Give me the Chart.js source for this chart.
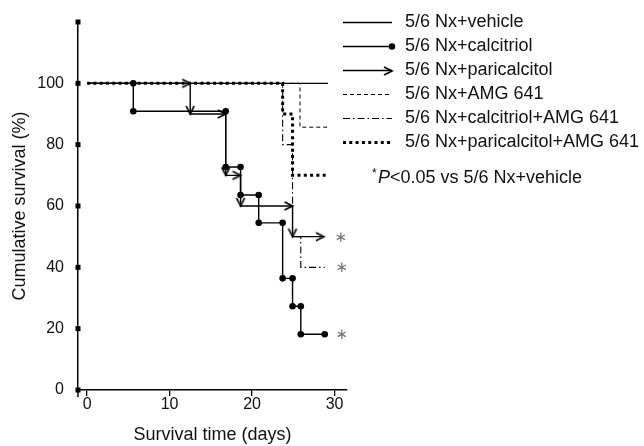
<!DOCTYPE html>
<html>
<head>
<meta charset="utf-8">
<script src="https://cdn.jsdelivr.net/npm/chart.js@4.4.1/dist/chart.umd.min.js"></script>
<style>
  html, body { margin: 0; padding: 0; background: #fff; }
  canvas { display: block; }
</style>
</head>
<body>
<canvas id="kmChart" width="644" height="446"></canvas>
<script>
// Kaplan-Meier curves: event day -> survival (%) after it
const seriesNames = [
  "5/6 Nx+vehicle",
  "5/6 Nx+calcitriol",
  "5/6 Nx+paricalcitol",
  "5/6 Nx+AMG 641",
  "5/6 Nx+calcitriol+AMG 641",
  "5/6 Nx+paricalcitol+AMG 641"
];

const vehicleTimes = [];
const vehicleSurv = [];
const vehicleEnd = 29.2;

const calcitriolTimes = [5.6, 16.8, 18.6, 20.8, 23.7, 24.9, 25.9];
const calcitriolSurv = [90.9, 72.7, 63.6, 54.5, 36.4, 27.3, 18.2];
const calcitriolEnd = 28.8;

const paricalcitolTimes = [12.5, 16.8, 18.6, 24.9];
const paricalcitolSurv = [90, 70, 60, 50];
const paricalcitolEnd = 28.7;

const amgTimes = [25.8];
const amgSurv = [85.7];
const amgEnd = 29.2;

const calcAmgTimes = [23.7, 24.9, 25.9];
const calcAmgSurv = [80, 50, 40];
const calcAmgEnd = 28.8;

const pariAmgTimes = [23.7, 24.9];
const pariAmgSurv = [90, 70];
const pariAmgEnd = 29.2;

// which groups get the * (P<0.05 vs vehicle)
const significant = [false, true, true, false, true, false];

const xTicks = [0, 10, 20, 30];
const yTicks = [0, 20, 40, 60, 80, 100, 120];
const yTickLabels = ["0", "20", "40", "60", "80", "100", ""];

const FONT = "'Liberation Sans', Arial, Helvetica, sans-serif";

// turn event lists into step corners
function kmSteps(times, surv, end) {
  const pts = [{ x: 0, y: 100 }];
  let prev = 100;
  times.forEach((t, i) => {
    pts.push({ x: t, y: prev });
    pts.push({ x: t, y: surv[i] });
    prev = surv[i];
  });
  pts.push({ x: end, y: prev });
  return pts;
}

// open arrow head, tip in the middle of the canvas
function makeArrow() {
  const c = document.createElement("canvas");
  c.width = 20;
  c.height = 20;
  const g = c.getContext("2d");
  g.strokeStyle = "#000";
  g.lineWidth = 1.7;
  g.beginPath();
  g.moveTo(2, 6);
  g.lineTo(10, 10);
  g.lineTo(2, 14);
  g.stroke();
  return c;
}
const arrowImg = makeArrow();

const base = {
  fill: false,
  borderColor: "#000",
  tension: 0,
  pointRadius: 0,
  pointHoverRadius: 0,
  borderCapStyle: "butt"
};

const datasets = [
  { ...base, label: seriesNames[0], data: kmSteps(vehicleTimes, vehicleSurv, vehicleEnd), borderWidth: 1.4, order: 6 },
  {
    ...base, label: seriesNames[1], data: kmSteps(calcitriolTimes, calcitriolSurv, calcitriolEnd), borderWidth: 1.4,
    pointRadius: c => (c.dataIndex === 0 ? 0 : 3.3), pointBackgroundColor: "#000", pointBorderWidth: 0, order: 2
  },
  {
    ...base, label: seriesNames[2], data: kmSteps(paricalcitolTimes, paricalcitolSurv, paricalcitolEnd), borderWidth: 1.4,
    pointStyle: arrowImg, pointRadius: c => (c.dataIndex === 0 ? 0 : 3),
    pointRotation: c => (c.dataIndex % 2 ? 0 : 90), order: 1
  },
  { ...base, label: seriesNames[3], data: kmSteps(amgTimes, amgSurv, amgEnd), borderWidth: 1, borderDash: [4, 3], order: 5 },
  { ...base, label: seriesNames[4], data: kmSteps(calcAmgTimes, calcAmgSurv, calcAmgEnd), borderWidth: 1.1, borderDash: [7, 3, 1.5, 3], order: 4 },
  { ...base, label: seriesNames[5], data: kmSteps(pariAmgTimes, pariAmgSurv, pariAmgEnd), borderWidth: 3, borderDash: [3, 3.3], order: 3 }
];

// legend samples, axis squares, asterisks
const decorations = {
  id: "decorations",
  afterDraw(chart) {
    const { ctx, chartArea, scales: { y } } = chart;
    ctx.save();

    // y axis sticks out a bit below the x axis
    ctx.strokeStyle = "#000";
    ctx.lineWidth = 1.5;
    ctx.setLineDash([]);
    ctx.beginPath();
    ctx.moveTo(chartArea.left, chartArea.bottom);
    ctx.lineTo(chartArea.left, chartArea.bottom + 7);
    ctx.stroke();

    // square tick marks
    ctx.fillStyle = "#000";
    yTicks.forEach(v => {
      const py = y.getPixelForValue(v);
      ctx.fillRect(chartArea.left - 2.5, py - 2.5, 5, 5);
    });

    // asterisks at the end of significant curves
    ctx.fillStyle = "#777";
    ctx.font = "15px 'DejaVu Sans', sans-serif";
    ctx.textAlign = "center";
    ctx.textBaseline = "middle";
    significant.forEach((s, i) => {
      if (!s) return;
      const pts = chart.getDatasetMeta(i).data;
      const last = pts[pts.length - 1];
      ctx.fillText("\u2217", last.x + 17, last.y + 1);
    });

    // legend
    const lx0 = 343, lx1 = 392, tx = 405, ty0 = 22.5, dy = 24;
    ctx.textAlign = "left";
    ctx.font = "18px " + FONT;
    datasets.forEach((ds, i) => {
      const yy = ty0 + i * dy;
      ctx.strokeStyle = "#000";
      ctx.lineWidth = ds.borderWidth;
      ctx.setLineDash(ds.borderDash || []);
      ctx.beginPath();
      ctx.moveTo(lx0, yy);
      ctx.lineTo(lx1, yy);
      ctx.stroke();
      ctx.setLineDash([]);
      if (i === 1) {
        ctx.fillStyle = "#000";
        ctx.beginPath();
        ctx.arc(lx1, yy, 3.2, 0, Math.PI * 2);
        ctx.fill();
      }
      if (i === 2) {
        ctx.drawImage(arrowImg, lx1 - 10, Math.round(yy) - 10);
      }
      ctx.fillStyle = "#111";
      ctx.fillText(ds.label, tx, yy);
    });

    // footnote
    const fy = 178;
    ctx.font = "12px " + FONT;
    ctx.fillText("*", 372, fy - 4);
    ctx.font = "italic 18px " + FONT;
    ctx.fillText("P", 378, fy);
    const pw = ctx.measureText("P").width;
    ctx.font = "18px " + FONT;
    ctx.fillText("<0.05 vs 5/6 Nx+vehicle", 378 + pw, fy);

    ctx.restore();
  }
};

new Chart(document.getElementById("kmChart"), {
  type: "line",
  data: { datasets },
  options: {
    responsive: false,
    animation: false,
    events: [],
    layout: { padding: { top: 14, right: 297, left: 0, bottom: 0 } },
    plugins: { legend: { display: false }, tooltip: { enabled: false } },
    scales: {
      x: {
        type: "linear",
        min: -1.1,
        max: 31.5,
        afterBuildTicks: s => { s.ticks = xTicks.map(v => ({ value: v })); },
        afterFit: s => { s.height = 56; },
        grid: { display: true, drawOnChartArea: false, drawTicks: true, tickLength: 6, color: "#000", lineWidth: 1.3 },
        border: { display: true, color: "#000", width: 1.5 },
        ticks: { color: "#111", font: { family: FONT, size: 16, lineHeight: 1 }, padding: 1, maxRotation: 0, autoSkip: false },
        title: { display: true, text: "Survival time (days)", color: "#111", font: { family: FONT, size: 18, lineHeight: 1 }, padding: { top: 0, bottom: 2 } }
      },
      y: {
        type: "linear",
        min: 0,
        max: 120,
        afterBuildTicks: s => { s.ticks = yTicks.map(v => ({ value: v })); },
        afterFit: s => { s.width = 78; },
        grid: { display: false, drawTicks: false },
        border: { display: true, color: "#000", width: 1.5 },
        ticks: {
          color: "#111", font: { family: FONT, size: 16, lineHeight: 1 }, padding: 14,
          callback: (v) => yTickLabels[yTicks.indexOf(v)]
        },
        title: { display: true, text: "Cumulative survival (%)", color: "#111", font: { family: FONT, size: 18, lineHeight: 1 }, padding: { top: 11, bottom: 0 } }
      }
    }
  },
  plugins: [decorations]
});
</script>
</body>
</html>
